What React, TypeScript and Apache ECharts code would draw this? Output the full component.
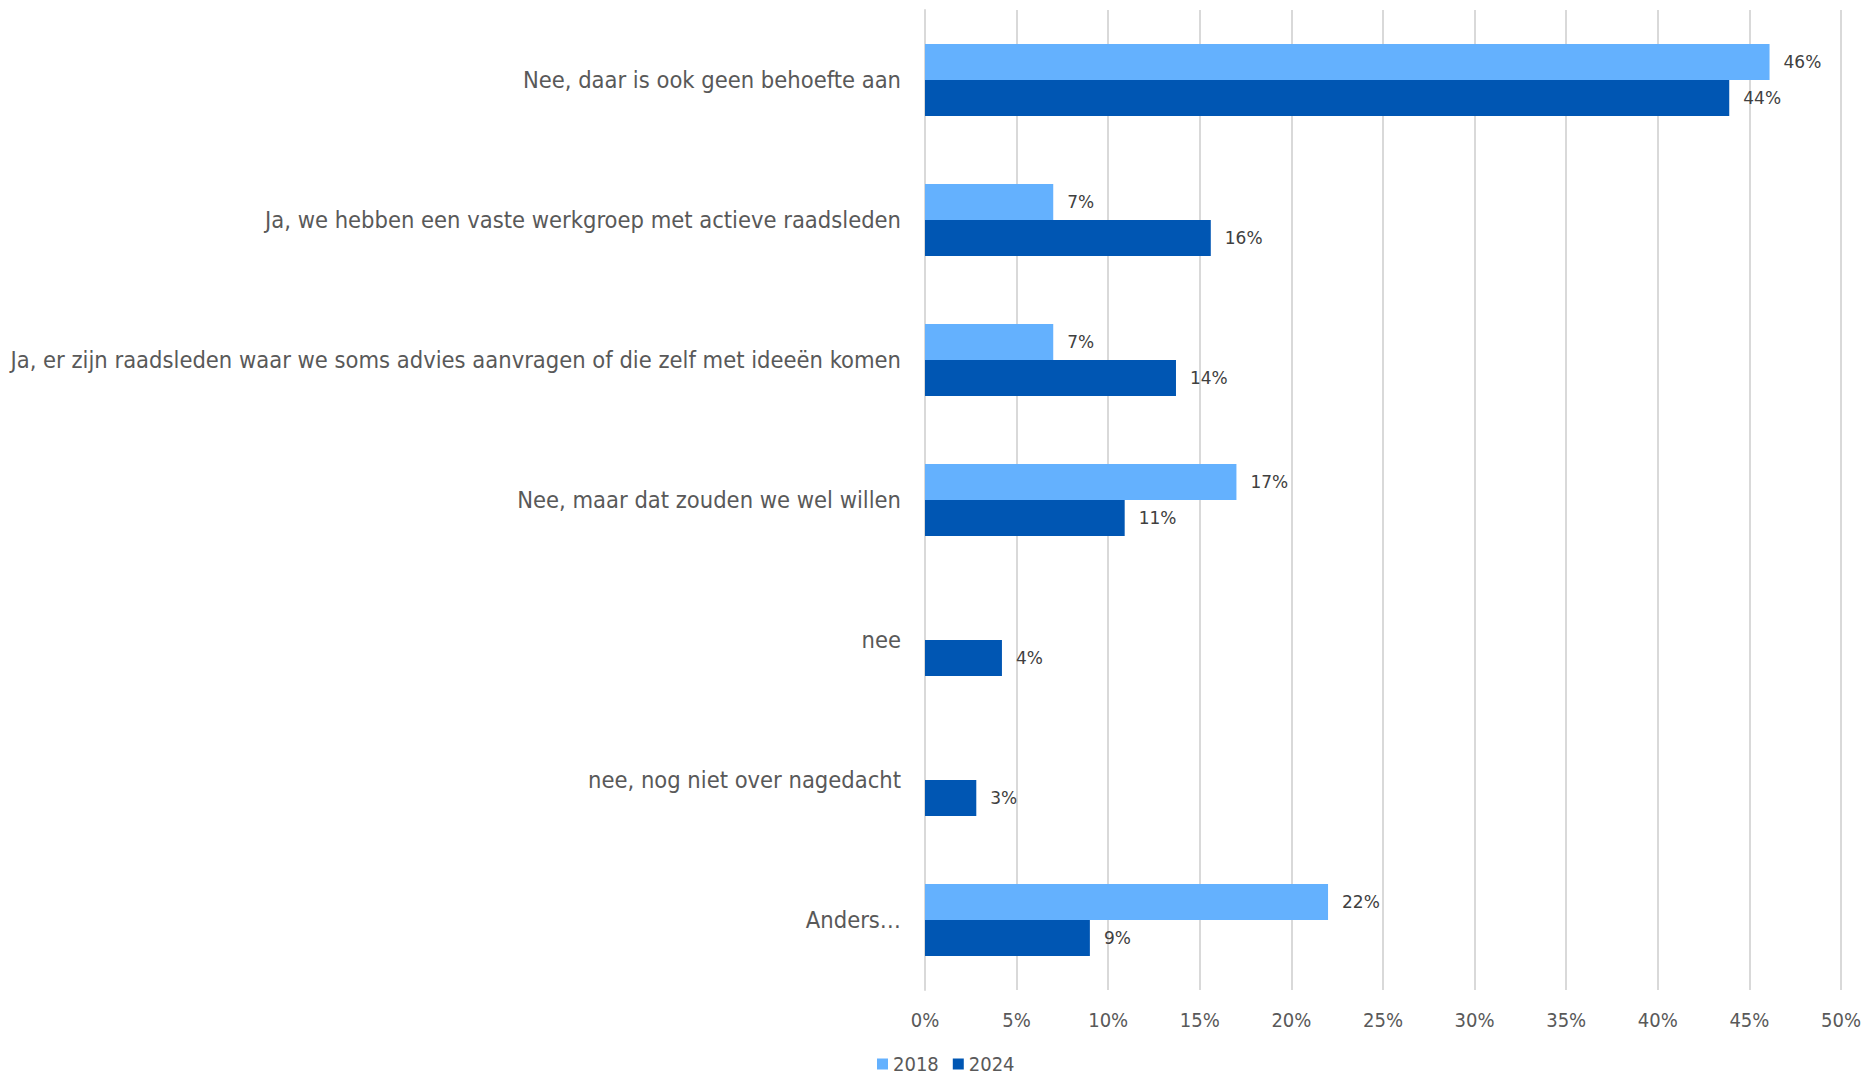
import React, { useEffect, useRef } from "react";
import * as echarts from "echarts";

const categories = [
  "Nee, daar is ook geen behoefte aan",
  "Ja, we hebben een vaste werkgroep met actieve raadsleden",
  "Ja, er zijn raadsleden waar we soms advies aanvragen of die zelf met ideeën komen",
  "Nee, maar dat zouden we wel willen",
  "nee",
  "nee, nog niet over nagedacht",
  "Anders…",
];
const values2018: (number | null)[] = [46.1, 7.0, 7.0, 17.0, null, null, 22.0];
const values2024: number[] = [43.9, 15.6, 13.7, 10.9, 4.2, 2.8, 9.0];
const xTicks = { min: 0, max: 50, interval: 5 };

const FONT = "'DejaVu Sans Condensed', 'Liberation Sans Narrow', 'DejaVu Sans', sans-serif";

export default function App() {
  const ref = useRef<HTMLDivElement>(null);
  useEffect(() => {
    document.body.style.margin = "0";
    const chart = echarts.init(ref.current!, null, { renderer: "svg" });
    const label = {
      show: true,
      position: "right" as const,
      distance: 14,
      fontFamily: "'DejaVu Sans', sans-serif",
      fontSize: 17,
      color: "#404040",
      formatter: (p: any) => (p.value == null ? "" : Math.round(p.value) + "%"),
    };
    chart.setOption({
      animation: false,
      textStyle: { fontFamily: FONT },
      grid: { left: 925, right: 26, top: 10, bottom: 86, containLabel: false },
      xAxis: {
        type: "value",
        min: xTicks.min,
        max: xTicks.max,
        interval: xTicks.interval,
        axisLabel: {
          formatter: "{value}%",
          fontSize: 20,
          color: "#595959",
          margin: 20,
          fontFamily: FONT,
        },
        splitLine: { lineStyle: { color: "#d9d9d9", width: 2 } },
        axisLine: { show: false },
        axisTick: { show: false },
      },
      yAxis: {
        type: "category",
        data: categories,
        inverse: true,
        axisLine: { show: true, lineStyle: { color: "#d9d9d9", width: 2 } },
        axisTick: { show: false },
        axisLabel: { fontSize: 23.5, color: "#595959", margin: 24, fontFamily: FONT },
      },
      legend: {
        top: 1054,
        left: 877,
        padding: 0,
        itemWidth: 11,
        itemHeight: 11,
        itemGap: 14,
        icon: "rect",
        textStyle: { fontSize: 20, color: "#595959", fontFamily: FONT },
        data: ["2018", "2024"],
      },
      series: [
        {
          name: "2018",
          type: "bar",
          data: values2018,
          barWidth: 36,
          barGap: "0%",
          itemStyle: { color: "#64B1FE" },
          label,
        },
        {
          name: "2024",
          type: "bar",
          data: values2024,
          barWidth: 36,
          barGap: "0%",
          itemStyle: { color: "#0056B3" },
          label,
        },
      ],
    });
    return () => chart.dispose();
  }, []);
  return <div ref={ref} style={{ width: 1867, height: 1076, position: "absolute", left: 0, top: 0 }} />;
}
